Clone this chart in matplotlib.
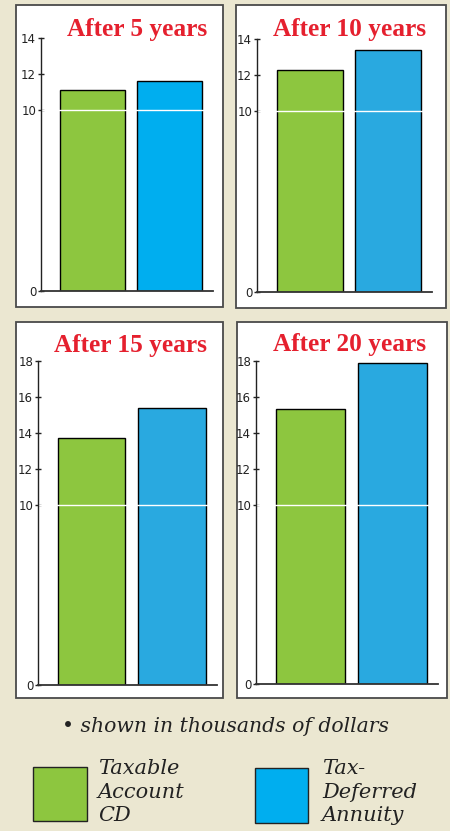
import matplotlib
matplotlib.use("Agg")
import matplotlib.pyplot as plt
from matplotlib.patches import Rectangle

# ── data (thousands of dollars) ─────────────────────────────────────────────
titles = ["After 5 years", "After 10 years", "After 15 years", "After 20 years"]
taxable_cd = [11.1, 12.3, 13.7, 15.3]
tax_deferred = [11.6, 13.4, 15.4, 17.9]
y_tops = [14, 14, 18, 18]
tick_sets = [[0, 10, 12, 14], [0, 10, 12, 14],
             [0, 10, 12, 14, 16, 18], [0, 10, 12, 14, 16, 18]]
legend_labels = ["Taxable\nAccount\nCD", "Tax-\nDeferred\nAnnuity"]
footnote = "• shown in thousands of dollars"

BG = "#ebe7d1"
GREEN = "#8dc63f"
BLUES = ["#00aeef", "#29a9e0", "#29a9e0", "#29a9e0"]
RED = "#e5202e"

W, H = 450, 831
fig = plt.figure(figsize=(W / 100, H / 100), dpi=100)
fig.patch.set_facecolor(BG)


def fx(x):
    return x / W


def fy(y):
    return 1 - y / H


# white panel boxes (left, top, right, bottom) in px
boxes = [(16, 5, 223, 307), (236, 5, 446, 308),
         (16, 322, 223, 698), (237, 322, 447, 698)]
# axes area: left spine x, top (max tick) y, right end of baseline, zero y
axes_px = [(41, 38, 213, 291), (257, 39, 432, 292),
           (38, 361, 217, 685), (256, 361, 438, 684)]
title_pos = [(137, 36), (350, 36), (131, 352), (350, 351)]

for i in range(4):
    l, t, r, b = boxes[i]
    fig.add_artist(Rectangle((fx(l), fy(b)), fx(r - l), (b - t) / H,
                             transform=fig.transFigure, facecolor="white",
                             edgecolor="#4a4a4a", linewidth=1.3, zorder=0))

    al, at, ar, ab = axes_px[i]
    ax = fig.add_axes([fx(al), fy(ab), fx(ar - al), (ab - at) / H])
    ax.set_facecolor("none")
    ax.bar([0, 1], [taxable_cd[i], tax_deferred[i]], width=0.84,
           color=[GREEN, BLUES[i]], edgecolor="black", linewidth=1.0, zorder=1)
    ax.axhline(10, color="white", linewidth=1.0, zorder=2)
    ax.set_xlim(-0.67, 1.56)
    ax.set_ylim(0, y_tops[i])
    ax.set_yticks(tick_sets[i])
    ax.set_yticklabels([str(v) for v in tick_sets[i]],
                       family=["Liberation Sans Narrow", "DejaVu Sans"],
                       fontsize=8.5, color="#222222")
    ax.set_xticks([])
    ax.tick_params(axis="y", direction="inout", length=5, width=1,
                   color="#222222", pad=1)
    for side in ["top", "right"]:
        ax.spines[side].set_visible(False)
    ax.spines["left"].set_color("#222222")
    ax.spines["left"].set_linewidth(1.0)
    ax.spines["bottom"].set_color("#333333")
    ax.spines["bottom"].set_linewidth(1.3)

    tx, ty = title_pos[i]
    fig.text(fx(tx), fy(ty), titles[i], ha="center", va="baseline",
             color=RED, fontsize=18.3, fontweight="bold",
             family="Liberation Serif")

# footnote
fig.text(0.5, fy(732), footnote, ha="center", va="baseline",
         fontsize=14.7, style="italic", family="DejaVu Serif", color="#222222")

# legend
leg_boxes = [(33, 767, 87, 821), (255, 768, 308, 823)]
leg_colors = [GREEN, "#00aeef"]
leg_text_x = [98, 322]
for j in range(2):
    l, t, r, b = leg_boxes[j]
    fig.add_artist(Rectangle((fx(l), fy(b)), fx(r - l), (b - t) / H,
                             transform=fig.transFigure,
                             facecolor=leg_colors[j], edgecolor="#222222",
                             linewidth=1.0))
    fig.text(fx(leg_text_x[j]), fy(759), legend_labels[j], ha="left",
             va="top", fontsize=15, style="italic", family="DejaVu Serif",
             color="#222222", linespacing=1.3)

fig.savefig("out.png", dpi=100, facecolor=fig.get_facecolor())
